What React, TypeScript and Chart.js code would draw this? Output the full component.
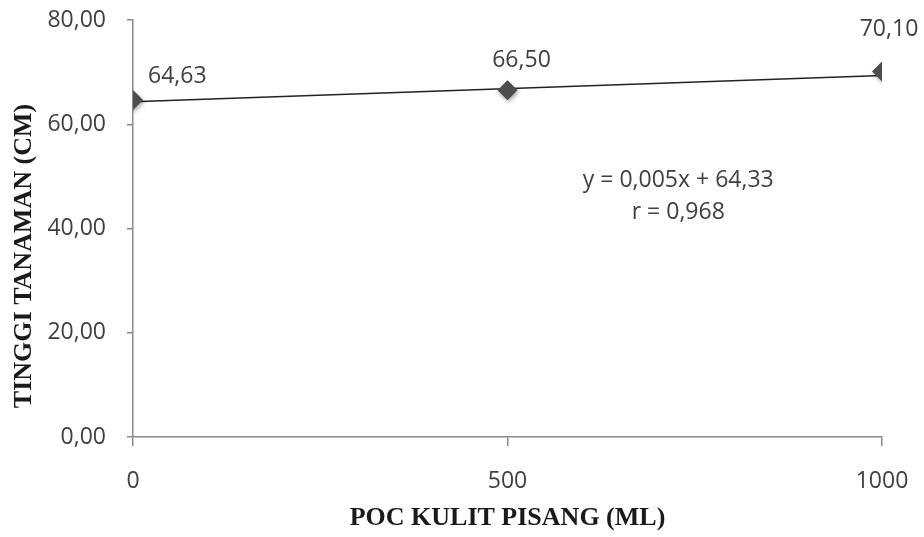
import React, { useEffect, useRef } from "react";
import { Chart, registerables } from "chart.js";

Chart.register(...registerables);

// ---- data ----
const doses = [0, 500, 1000];
const heights = [64.63, 66.5, 70.1];
const heightLabels = ["64,63", "66,50", "70,10"];
const xTicks = [0, 500, 1000];
const yTicks = [0, 20, 40, 60, 80];
const yTickLabels = ["0,00", "20,00", "40,00", "60,00", "80,00"];
const slope = 0.005;
const intercept = 64.33;
const equationLines = ["y = 0,005x + 64,33", "r = 0,968"];
const xTitle = "POC KULIT PISANG (ML)";
const yTitle = "TINGGI TANAMAN (CM)";

const TEXT = "#404040";
const AXIS = "#8a8a8a";
const LABEL_FONT = "23px 'Open Sans'";
const TITLE_FONT = { family: "'Liberation Serif', 'Times New Roman', serif", weight: "bold" as const, size: 26 };

// label offsets relative to each point (px)
const labelOffsets = [
  { dx: 15, dy: -24, align: "left" },
  { dx: 14, dy: -30, align: "center" },
  { dx: 7, dy: -42, align: "center" },
];

const overlay = {
  id: "overlay",
  beforeDatasetDraw(chart: any, args: any) {
    if (args.index === 0) {
      const ctx = chart.ctx;
      ctx.save();
      ctx.shadowColor = "rgba(0,0,0,0.35)";
      ctx.shadowBlur = 4;
      ctx.shadowOffsetX = 1;
      ctx.shadowOffsetY = 2;
    }
  },
  afterDatasetDraw(chart: any, args: any) {
    if (args.index === 0) chart.ctx.restore();
  },
  afterDraw(chart: any) {
    const { ctx, scales, chartArea } = chart;
    const xs = scales.x;
    const ys = scales.y;
    ctx.save();
    ctx.fillStyle = TEXT;
    ctx.font = LABEL_FONT;
    ctx.textBaseline = "middle";
    doses.forEach((d, i) => {
      const px = xs.getPixelForValue(d);
      const py = ys.getPixelForValue(heights[i]);
      const o = labelOffsets[i];
      ctx.textAlign = o.align;
      ctx.fillText(heightLabels[i], px + o.dx, py + o.dy);
    });
    ctx.textAlign = "center";
    const ex = chartArea.left + (chartArea.right - chartArea.left) * 0.728;
    const ey = chartArea.top + 160;
    equationLines.forEach((t, i) => ctx.fillText(t, ex, ey + i * 32));
    ctx.font = `${TITLE_FONT.weight} ${TITLE_FONT.size}px ${TITLE_FONT.family}`;
    ctx.fillStyle = "#1a1a1a";
    ctx.translate(24, 256);
    ctx.rotate(-Math.PI / 2);
    ctx.textAlign = "center";
    ctx.fillText(yTitle, 0, 0);
    ctx.restore();
  },
};

export default function App() {
  const ref = useRef<HTMLCanvasElement>(null);
  useEffect(() => {
    const canvas = ref.current!;
    const trend = [xTicks[0], xTicks[xTicks.length - 1]].map((x) => ({ x, y: intercept + slope * x }));
    const chart = new Chart(canvas, {
      type: "scatter",
      data: {
        datasets: [
          {
            data: doses.map((d, i) => ({ x: d, y: heights[i] })),
            pointStyle: "rectRot",
            pointRadius: 10,
            pointBackgroundColor: "#4d4d4d",
            pointBorderColor: "#4d4d4d",
            pointBorderWidth: 0,
            showLine: false,
          },
          {
            data: trend,
            showLine: true,
            borderColor: "#222",
            borderWidth: 1.5,
            pointRadius: 0,
            fill: false,
          },
        ],
      },
      options: {
        responsive: false,
        animation: false,
        devicePixelRatio: 1,
        layout: { padding: { top: 20, right: 42, left: 0, bottom: 0 } },
        plugins: { legend: { display: false }, tooltip: { enabled: false } },
        scales: {
          x: {
            type: "linear",
            min: 0,
            max: 1000,
            afterBuildTicks: (s: any) => {
              s.ticks = xTicks.map((v) => ({ value: v }));
            },
            afterFit: (s: any) => {
              s.height = 100;
              s.paddingLeft = 0;
              s.paddingRight = 0;
            },
            ticks: { color: TEXT, font: { family: "'Open Sans'", size: 23 }, padding: 22, callback: (v: any) => String(v) },
            grid: { drawOnChartArea: false, drawTicks: true, tickLength: 9, color: AXIS, lineWidth: 1.5 },
            border: { display: true, color: AXIS, width: 1.5 },
            title: { display: true, text: xTitle, color: "#1a1a1a", font: TITLE_FONT, padding: { top: 0, bottom: 3 } },
          },
          y: {
            min: 0,
            max: 80,
            afterBuildTicks: (s: any) => {
              s.ticks = yTicks.map((v) => ({ value: v }));
            },
            afterFit: (s: any) => {
              s.width = 133;
              s.paddingTop = 0;
              s.paddingBottom = 0;
            },
            ticks: {
              color: TEXT,
              font: { family: "'Open Sans'", size: 23 },
              padding: 21,
              callback: (v: any) => yTickLabels[yTicks.indexOf(Number(v))] ?? "",
            },
            grid: { drawOnChartArea: false, drawTicks: true, tickLength: 6, color: AXIS, lineWidth: 1.5 },
            border: { display: true, color: AXIS, width: 1.5 },
          },
        },
      },
      plugins: [overlay],
    } as any);
    return () => chart.destroy();
  }, []);
  return (
    <div style={{ position: "fixed", left: 0, top: 0, width: 924, height: 537, background: "#fff" }}>
      <canvas ref={ref} width={924} height={537} style={{ display: "block", width: 924, height: 537 }} />
    </div>
  );
}
